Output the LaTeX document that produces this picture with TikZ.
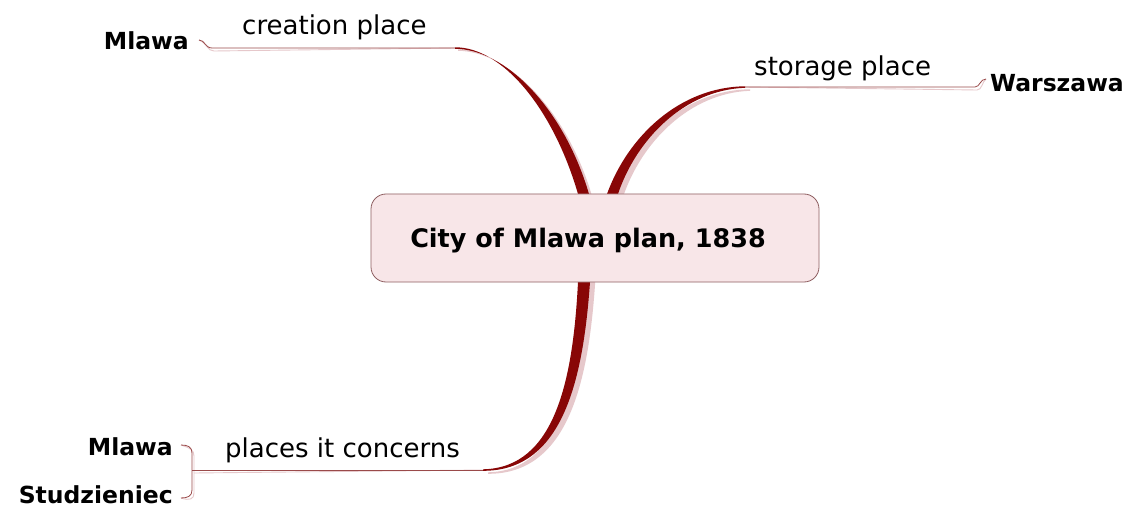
\documentclass[tikz,border=0pt]{standalone}
\usepackage{fontspec}
\setmainfont{DejaVu Sans}
\definecolor{branch}{HTML}{880606}
\definecolor{shadowc}{HTML}{E6C8CB}
\definecolor{thinc}{HTML}{9A4A4A}
\definecolor{boxfill}{HTML}{F8E6E8}
\definecolor{boxdraw}{HTML}{8E5E60}
\tikzset{
  lbl/.style={inner sep=0pt, font=\fontsize{26}{30}\selectfont},
  place/.style={inner sep=0pt, font=\fontsize{23.5}{28}\selectfont\bfseries},
  thin/.style={draw=thinc, line width=0.8pt},
  thinshadow/.style={draw=shadowc, line width=0.9pt},
  central/.style={draw=boxdraw, fill=boxfill, line width=0.8pt, rounded corners=15pt,
    minimum width=448pt, minimum height=88pt, inner sep=0pt},
}
\begin{document}
\begin{tikzpicture}[x=1pt,y=-1pt]
\useasboundingbox (0,0) rectangle (1136,508);
\fill[white] (0,0) rectangle (1136,508);
% named end points
\coordinate (tlend) at (455,48);
\coordinate (trend) at (745,87);
\coordinate (btend) at (483,470);
\coordinate (tlhook) at (199,40);
\coordinate (trhook) at (986,79);
\coordinate (bttop) at (181,445);
\coordinate (btbot) at (181,498);
% ---- shadows of thin lines
\begin{scope}[shift={(2,3)}]
\draw[thinshadow] (tlend) -- (212,48) .. controls (205,48) and (205,40) .. (tlhook);
\draw[thinshadow] (trend) -- (975,87) .. controls (980,87) and (980,79) .. (trhook);
\draw[thinshadow] (btend) -- (192,470);
\draw[thinshadow] (bttop) .. controls (188,445) and (192,447) .. (192,453) -- (192,490) .. controls (192,496) and (188,498) .. (btbot);
\end{scope}
% ---- shadows of thick branches
\begin{scope}[shift={(3,2)}]
\fill[shadowc] (455,47.3) .. controls (502,47) and (553,108) .. (577,194) -- (581,215) -- (593,215) -- (589,194) .. controls (563,106) and (504,49) .. (455,48.8) -- cycle;
\end{scope}
\begin{scope}[shift={(5,3)}]
\fill[shadowc] (606,215) -- (607,194) .. controls (628,136) and (680,87) .. (745,86.3) -- (745,87.8) .. controls (684,90) and (636,140) .. (618,194) -- (617,215) -- cycle;
\fill[shadowc] (578,270) -- (578,282) .. controls (573,380) and (555,468) .. (483,469.3) -- (483,470.8) .. controls (562,471) and (583,382) .. (590,282) -- (590,270) -- cycle;
\end{scope}
% ---- thin lines
\draw[thin] (tlend) -- (212,48) .. controls (205,48) and (205,40) .. (tlhook);
\draw[thin] (trend) -- (975,87) .. controls (980,87) and (980,79) .. (trhook);
\draw[thin] (btend) -- (192,470);
\draw[thin] (bttop) .. controls (188,445) and (192,447) .. (192,453) -- (192,490) .. controls (192,496) and (188,498) .. (btbot);
% ---- thick tapered branches
\fill[branch] (455,47.3) .. controls (502,47) and (553,108) .. (578,194) -- (581,215) -- (592,215) -- (589,194) .. controls (563,106) and (504,49) .. (455,48.8) -- cycle;
\fill[branch] (606,215) -- (607,194) .. controls (628,136) and (680,87) .. (745,86.3) -- (745,87.8) .. controls (684,90) and (636,140) .. (618,194) -- (617,215) -- cycle;
\fill[branch] (578,270) -- (578,282) .. controls (573,380) and (555,468) .. (483,469.3) -- (483,470.8) .. controls (562,471) and (583,382) .. (590,282) -- (590,270) -- cycle;
% ---- central topic
\node[central] (center) at (595,238) {};
\node[inner sep=0pt, font=\fontsize{25.5}{30}\selectfont\bfseries] (title) at (588,241) {City of Mlawa plan, 1838};
% ---- labels
\node[lbl, anchor=base west] (creation) at (242,35) {creation place};
\node[lbl, anchor=base west] (storage) at (754,76) {storage place};
\node[lbl, anchor=base west] (concerns) at (225,457) {places it concerns};
\node[place, anchor=base east] (mlawaA) at (189,50) {Mlawa};
\node[place, anchor=base west] (warszawa) at (990,92) {Warszawa};
\node[place, anchor=base east] (mlawaB) at (173,455) {Mlawa};
\node[place, anchor=base east] (studz) at (173,503) {Studzieniec};
\end{tikzpicture}
\end{document}
